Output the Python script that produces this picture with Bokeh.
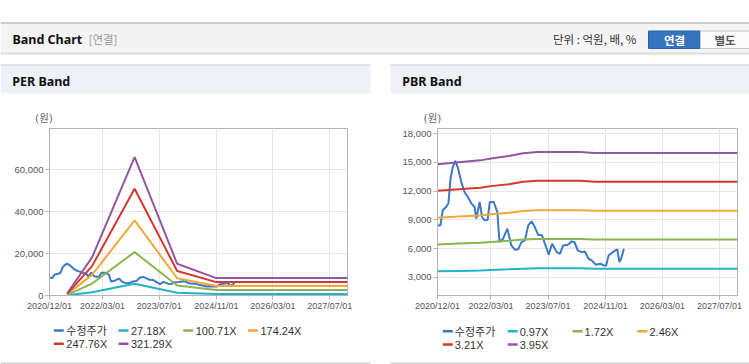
import pandas as pd
from bokeh.plotting import figure
from bokeh.models import Range1d, FixedTicker, DatetimeTickFormatter, NumeralTickFormatter, Spacer
from bokeh.layouts import column, row
from bokeh.core.properties import value
from bokeh.embed import file_html
from bokeh.resources import INLINE

# ---------------- data ----------------
price_dates = ["2020-12-01", "2020-12-25", "2021-01-15", "2021-02-12", "2021-03-04", "2021-03-22",
               "2021-04-10", "2021-05-01", "2021-05-22", "2021-06-22", "2021-07-19", "2021-08-16",
               "2021-09-16", "2021-10-13", "2021-10-28", "2021-11-25", "2021-12-16", "2022-01-07",
               "2022-02-01", "2022-02-19", "2022-03-25", "2022-04-25", "2022-05-13", "2022-06-13",
               "2022-07-19", "2022-08-22", "2022-09-22", "2022-10-19", "2022-11-16", "2022-12-16",
               "2023-01-13", "2023-02-10", "2023-03-10", "2023-04-07", "2023-05-10", "2023-06-04",
               "2023-07-07", "2023-08-04", "2023-09-13", "2023-10-10", "2023-11-07", "2023-12-16",
               "2024-01-19", "2024-02-10", "2024-03-10", "2024-04-13", "2024-05-10", "2024-06-10",
               "2024-07-07", "2024-08-10", "2024-09-19", "2024-10-16", "2024-11-07", "2024-11-28",
               "2025-01-10", "2025-02-10", "2025-02-28", "2025-03-16", "2025-04-07"]
price_vals = [8430, 8400, 10000, 10340, 10700, 13300,
              14500, 15150, 14500, 12950, 11900, 11380,
              10700, 10340, 9130, 10860, 9300, 8950,
              8990, 10860, 10860, 9800, 6690, 7040,
              8080, 6340, 5890, 5930, 6690, 6870,
              8430, 8850, 8250, 7460, 7390, 6520,
              5370, 6520, 5640, 5460, 6340, 6410,
              6760, 6700, 5820, 5640, 5700, 4950,
              4780, 4330, 4430, 4250, 4250, 5300,
              5710, 5920, 4600, 5000, 6000]

per_band_dates = ["2021-05-01", "2021-12-01", "2022-12-01", "2023-12-01", "2024-11-01", "2027-12-01"]
per_27 = [82, 1536, 5583, 1280, 701, 701]
per_100 = [302, 5690, 20686, 4743, 2598, 2598]
per_174 = [523, 9845, 35789, 8207, 4495, 4495]
per_247 = [743, 13998, 50890, 11669, 6392, 6392]
per_321 = [964, 18153, 65993, 15133, 8289, 8289]
per_names = ["수정주가", "27.18X", "100.71X", "174.24X", "247.76X", "321.29X"]

pbr_band_dates = ["2020-12-01", "2021-06-01", "2021-12-01", "2022-03-01", "2022-08-01",
                  "2022-12-01", "2023-04-01", "2024-04-01", "2024-08-01", "2027-12-01"]
pbr_097 = [3634, 3684, 3733, 3782, 3843, 3917, 3949, 3949, 3919, 3919]
pbr_172 = [6444, 6531, 6618, 6706, 6814, 6945, 7001, 7001, 6949, 6949]
pbr_246 = [9217, 9342, 9466, 9591, 9747, 9934, 10015, 10015, 9940, 9940]
pbr_321 = [12028, 12190, 12353, 12516, 12719, 12962, 13068, 13068, 12971, 12971]
pbr_395 = [14800, 15000, 15200, 15400, 15650, 15950, 16080, 16080, 15960, 15960]
pbr_names = ["수정주가", "0.97X", "1.72X", "2.46X", "3.21X", "3.95X"]

x_ticks = ["2020-12-01", "2022-03-01", "2023-07-01", "2024-11-01", "2026-03-01", "2027-07-01"]
x_start, x_end = "2020-12-01", "2027-12-01"
per_yticks = [0, 20000, 40000, 60000]
pbr_yticks = [3000, 6000, 9000, 12000, 15000, 18000]
unit_text = "(원)"

colors = ["#3c78c8", "#22b4c6", "#8db452", "#f2a93a", "#d3372f", "#9356a3"]

KR = "Noto Sans CJK KR"
NUM = "Liberation Sans, Noto Sans CJK KR"
W, H = 749, 364
TOP_H = 127


def ms(d):
    return pd.Timestamp(d).value / 1e6


def blank(w, h, xr, yr):
    f = figure(width=w, height=h, x_range=Range1d(*xr), y_range=Range1d(*yr),
               x_axis_location=None, y_axis_location=None,
               output_backend="svg", toolbar_location=None, title=None,
               min_border_left=0, min_border_right=0, min_border_top=0, min_border_bottom=0)
    f.grid.visible = False
    f.outline_line_color = None
    f.background_fill_color = "white"
    f.border_fill_color = "white"
    return f


# -------- top strip: page header, panel heads, unit labels (ref coords, y down) --------
top = blank(W, TOP_H, (0, W), (TOP_H, 0))
top.quad(left=[0], right=[W], top=[22.5], bottom=[52.5], fill_color="#f4f4f4", line_color=None)
top.segment(x0=[0], y0=[22.5], x1=[W], y1=[22.5], line_color="#bdbdbd", line_width=1.5)
top.segment(x0=[0], y0=[52.8], x1=[W], y1=[52.8], line_color="#cdcdcd", line_width=1)
top.segment(x0=[0], y0=[53.8], x1=[W], y1=[53.8], line_color="#e8e8e8", line_width=1)
top.text(x=[12], y=[38.5], text=["Band Chart"], text_font=value("Noto Sans"), text_font_style="bold",
         text_font_size="12.5px", text_color="#111111", text_baseline="middle")
top.text(x=[88], y=[38.5], text=["[연결]"], text_font=value(KR), text_font_size="11.5px",
         text_color="#999999", text_baseline="middle")
top.text(x=[552.5], y=[38.5], text=["단위 : 억원, 배, %"], text_font=value(KR), text_font_size="11.5px",
         text_color="#333333", text_baseline="middle")
top.quad(left=[648], right=[700], top=[30.5], bottom=[48], fill_color="#3675bd", line_color="#2a62a5")
top.text(x=[674], y=[39.2], text=["연결"], text_font=value(KR), text_font_style="bold", text_font_size="11.5px",
         text_color="white", text_align="center", text_baseline="middle")
top.quad(left=[700], right=[760], top=[30.5], bottom=[48], fill_color="#fbfbfb", line_color="#c4c4c4")
top.text(x=[724.5], y=[39.2], text=["별도"], text_font=value(KR), text_font_style="bold", text_font_size="11.5px",
         text_color="#555555", text_align="center", text_baseline="middle")
for (x0, x1, t, ux) in [(0, 370, "PER Band", 43.5), (390, W, "PBR Band", 432.0)]:
    top.quad(left=[x0], right=[x1], top=[64], bottom=[93], fill_color="#eef2f7", line_color=None)
    top.segment(x0=[x0], y0=[64.5], x1=[x1], y1=[64.5], line_color="#d8dce2", line_width=1.5)
    top.text(x=[x0 + 11.7], y=[80.5], text=[t], text_font=value("Noto Sans"), text_font_style="bold",
             text_font_size="12.5px", text_color="#111111", text_baseline="middle")
    top.text(x=[ux], y=[117.5], text=[unit_text], text_font=value("DejaVu Sans, Noto Sans CJK KR"),
             text_font_size="10.5px", text_align="center",
             text_color="#666666", text_baseline="middle")


def chart(w, yr, yticks, mb_left, mb_right):
    p = figure(width=w, height=320 - TOP_H, x_axis_type="datetime",
               x_range=Range1d(ms(x_start), ms(x_end)), y_range=Range1d(*yr),
               output_backend="svg", toolbar_location=None, title=None,
               min_border_left=mb_left, min_border_right=mb_right,
               min_border_top=128 - TOP_H, min_border_bottom=25)
    p.background_fill_color = "white"
    p.border_fill_color = "white"
    p.outline_line_color = "#b5b5b5"
    p.xaxis.ticker = FixedTicker(ticks=[ms(d) for d in x_ticks])
    fmt = "%Y/%m/%d"
    p.xaxis.formatter = DatetimeTickFormatter(microseconds=fmt, milliseconds=fmt, seconds=fmt, minsec=fmt,
                                              minutes=fmt, hourmin=fmt, hours=fmt, days=fmt, months=fmt, years=fmt)
    p.yaxis.ticker = FixedTicker(ticks=yticks)
    p.yaxis.formatter = NumeralTickFormatter(format="0,0")
    for ax in (p.xaxis[0], p.yaxis[0]):
        ax.axis_line_color = "#b5b5b5"
        ax.major_tick_line_color = "#b5b5b5"
        ax.minor_tick_line_color = None
        ax.major_tick_in = 0
        ax.major_label_text_color = "#555555"
        ax.major_label_text_font = NUM
    p.xaxis.major_tick_out = 4
    p.xaxis.major_label_standoff = 1
    p.xaxis.major_label_text_font_size = "9px"
    p.yaxis.major_tick_out = 4
    p.yaxis.major_label_standoff = 2
    p.yaxis.major_label_text_font_size = "9.5px"
    p.xgrid.grid_line_color = "#e6e6e6"
    p.ygrid.grid_line_color = "#e6e6e6"
    return p


pdts = pd.to_datetime(price_dates)

# -------- PER chart --------
per = chart(370, (0, 79600), per_yticks, 49, 23)
bdts = pd.to_datetime(per_band_dates)
per.line(pdts, price_vals, line_color=colors[0], line_width=2)
for vals, c in zip([per_27, per_100, per_174, per_247, per_321], colors[1:]):
    per.line(bdts, vals, line_color=c, line_width=2)

# -------- PBR chart --------
pbr = chart(359, (1120, 18520), pbr_yticks, 47, 12)
pbdts = pd.to_datetime(pbr_band_dates)
pbr.line(pdts, price_vals, line_color=colors[0], line_width=2)
for vals, c in zip([pbr_097, pbr_172, pbr_246, pbr_321, pbr_395], colors[1:]):
    pbr.line(pbdts, vals, line_color=c, line_width=2)

# -------- bottom strip: legends (ref coords, y down) --------
bot = blank(W, H - 320, (0, W), (H, 320))
for names, seg_start, col_w, gap, row_y in [(per_names, 53.3, 64.7, 12.5, 330.0),
                                            (pbr_names, 442.3, 64.9, 12.0, 330.7)]:
    for i, (n, c) in enumerate(zip(names, colors)):
        col, r = i % 4, i // 4
        sx = seg_start + col * col_w
        y = row_y + r * 13.3
        bot.segment(x0=[sx], y0=[y], x1=[sx + 10], y1=[y], line_color=c, line_width=2.5)
        bot.text(x=[sx + gap], y=[y + 0.5], text=[n], text_font=value(NUM), text_font_size="11px",
                 text_color="#333333", text_baseline="middle")
for x0, x1 in [(0, 370), (390, W)]:
    bot.segment(x0=[x0], y0=[363], x1=[x1], y1=[363], line_color="#d4d4d4", line_width=2)

layout = column(top, row(per, Spacer(width=20, height=320 - TOP_H), pbr), bot)

open("out.html", "w").write(file_html(layout, INLINE))
